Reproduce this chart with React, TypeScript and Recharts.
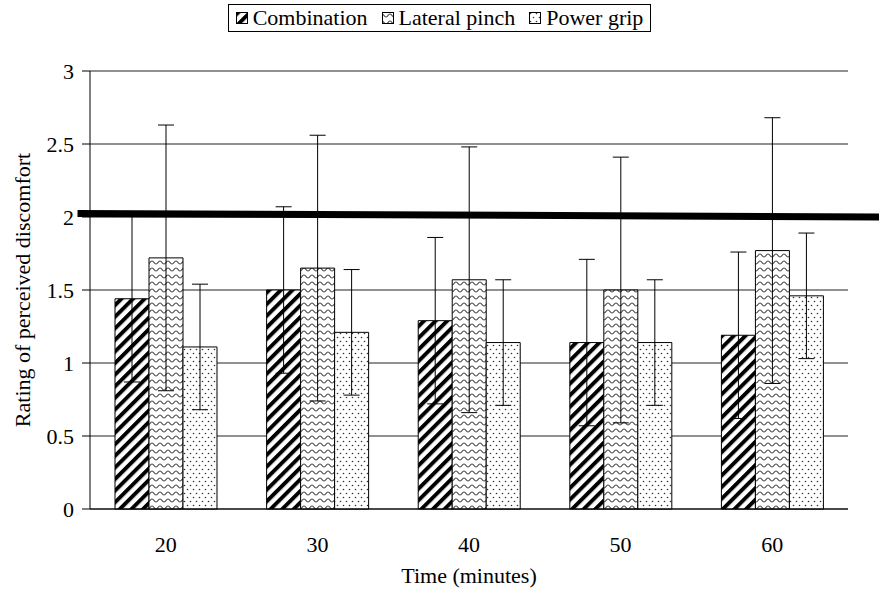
import React from "react";
import {
  BarChart,
  Bar,
  XAxis,
  YAxis,
  CartesianGrid,
  ErrorBar,
  ReferenceLine,
  Legend,
} from "recharts";

const times = ["20", "30", "40", "50", "60"];
const combination = [1.44, 1.5, 1.29, 1.14, 1.19];
const combinationSd = [0.57, 0.57, 0.57, 0.57, 0.57];
const lateralPinch = [1.72, 1.65, 1.57, 1.5, 1.77];
const lateralPinchSd = [0.91, 0.91, 0.91, 0.91, 0.91];
const powerGrip = [1.11, 1.21, 1.14, 1.14, 1.46];
const powerGripSd = [0.43, 0.43, 0.43, 0.43, 0.43];
const yTicks = [0, 0.5, 1, 1.5, 2, 2.5, 3];
// tick marks sit between the time groups, Excel style
const groupBounds = [0, 1, 2, 3, 4, 5];
// the thick, slightly sloping line near 2 (x in group units)
const thresholdX = [-0.066, 5.3];
const thresholdY = [2.024, 1.994];

const data = times.map((time, i) => ({
  time,
  combination: combination[i],
  combinationSd: combinationSd[i],
  lateralPinch: lateralPinch[i],
  lateralPinchSd: lateralPinchSd[i],
  powerGrip: powerGrip[i],
  powerGripSd: powerGripSd[i],
}));

const series = [
  { key: "combination", sd: "combinationSd", name: "Combination", fill: "url(#hatchStripes)" },
  { key: "lateralPinch", sd: "lateralPinchSd", name: "Lateral pinch", fill: "url(#hatchWaves)" },
  { key: "powerGrip", sd: "powerGripSd", name: "Power grip", fill: "url(#hatchDots)" },
];

const font = '"Liberation Serif", "DejaVu Serif", serif';

function Patterns() {
  return (
    <svg width={0} height={0} style={{ position: "absolute" }}>
      <defs>
        <pattern id="hatchStripes" patternUnits="userSpaceOnUse" width={8.2} height={8.2} patternTransform="rotate(45)">
          <rect width={8.2} height={8.2} fill="#fff" />
          <rect width={3.9} height={8.2} fill="#000" />
        </pattern>
        <pattern id="hatchWaves" patternUnits="userSpaceOnUse" width={8} height={7}>
          <rect width={8} height={7} fill="#fff" />
          <path d="M0 2 C2 2 2 5 4 5 C6 5 6 2 8 2" fill="none" stroke="#444" strokeWidth={1.2} />
        </pattern>
        <pattern id="hatchDots" patternUnits="userSpaceOnUse" width={6} height={8}>
          <rect width={6} height={8} fill="#fff" />
          <circle cx={1.5} cy={1.5} r={0.8} fill="#333" />
          <circle cx={4.5} cy={5.5} r={0.8} fill="#333" />
        </pattern>
      </defs>
    </svg>
  );
}

function PatternLegend() {
  return (
    <div style={{ display: "flex", justifyContent: "center", height: 30 }}>
      <div
        style={{
          display: "flex",
          alignItems: "center",
          border: "1px solid #000",
          height: 28,
          padding: "0 7px",
          fontSize: 22,
          fontFamily: font,
          color: "#000",
          boxSizing: "border-box",
        }}
      >
        {series.map((s, i) => (
          <span key={s.key} style={{ display: "inline-flex", alignItems: "center", marginLeft: i ? 14 : 0 }}>
            <svg width={12} height={12}>
              <rect x={0.5} y={0.5} width={11} height={11} fill={s.fill} stroke="#000" />
            </svg>
            <span style={{ marginLeft: 5 }}>{s.name}</span>
          </span>
        ))}
      </div>
    </div>
  );
}

const tickStyle = { fontSize: 22, fill: "#000", fontFamily: font };

export default function App() {
  return (
    <div style={{ width: 879, height: 590, background: "#fff", fontFamily: font, position: "relative" }}>
      <style>{"body{margin:0}"}</style>
      <Patterns />
      <BarChart
        width={879}
        height={590}
        data={data}
        margin={{ top: 41, right: 31, left: 0, bottom: 0 }}
        barCategoryGap="16.5%"
        barGap={0}
      >
        <Legend verticalAlign="top" content={<PatternLegend />} wrapperStyle={{ top: 4, left: 0, width: 879 }} />
        <CartesianGrid vertical={false} stroke="#222" />
        <XAxis
          xAxisId="bounds"
          type="number"
          domain={[0, 5]}
          ticks={groupBounds}
          allowDataOverflow
          height={1}
          axisLine={{ stroke: "#000" }}
          tick={false}
          tickLine={{ stroke: "#000" }}
          tickSize={7}
        />
        <XAxis
          xAxisId="time"
          dataKey="time"
          height={80}
          axisLine={false}
          tickLine={false}
          tickSize={6}
          tickMargin={20}
          tick={tickStyle}
          label={{ value: "Time (minutes)", position: "insideBottom", offset: 7, style: tickStyle }}
        />
        <YAxis
          domain={[0, 3]}
          ticks={yTicks}
          width={90}
          axisLine={{ stroke: "#000" }}
          tickLine={{ stroke: "#000" }}
          tickSize={8}
          tickMargin={8}
          tick={tickStyle}
          label={{
            value: "Rating of perceived discomfort",
            angle: -90,
            position: "insideLeft",
            offset: 22,
            style: { ...tickStyle, textAnchor: "middle" },
          }}
        />
        <YAxis
          yAxisId="frame"
          orientation="right"
          width={0}
          domain={[0, 3]}
          tick={false}
          tickLine={false}
          axisLine={{ stroke: "#888" }}
        />
        {series.map((s) => (
          <Bar
            key={s.key}
            xAxisId="time"
            dataKey={s.key}
            name={s.name}
            fill={s.fill}
            stroke="#000"
            strokeWidth={1}
            isAnimationActive={false}
          >
            <ErrorBar dataKey={s.sd} width={8} stroke="#000" strokeWidth={1} direction="y" />
          </Bar>
        ))}
        <ReferenceLine
          xAxisId="bounds"
          segment={[
            { x: thresholdX[0], y: thresholdY[0] },
            { x: thresholdX[1], y: thresholdY[1] },
          ]}
          stroke="#000"
          strokeWidth={7}
          ifOverflow="visible"
        />
      </BarChart>
    </div>
  );
}
